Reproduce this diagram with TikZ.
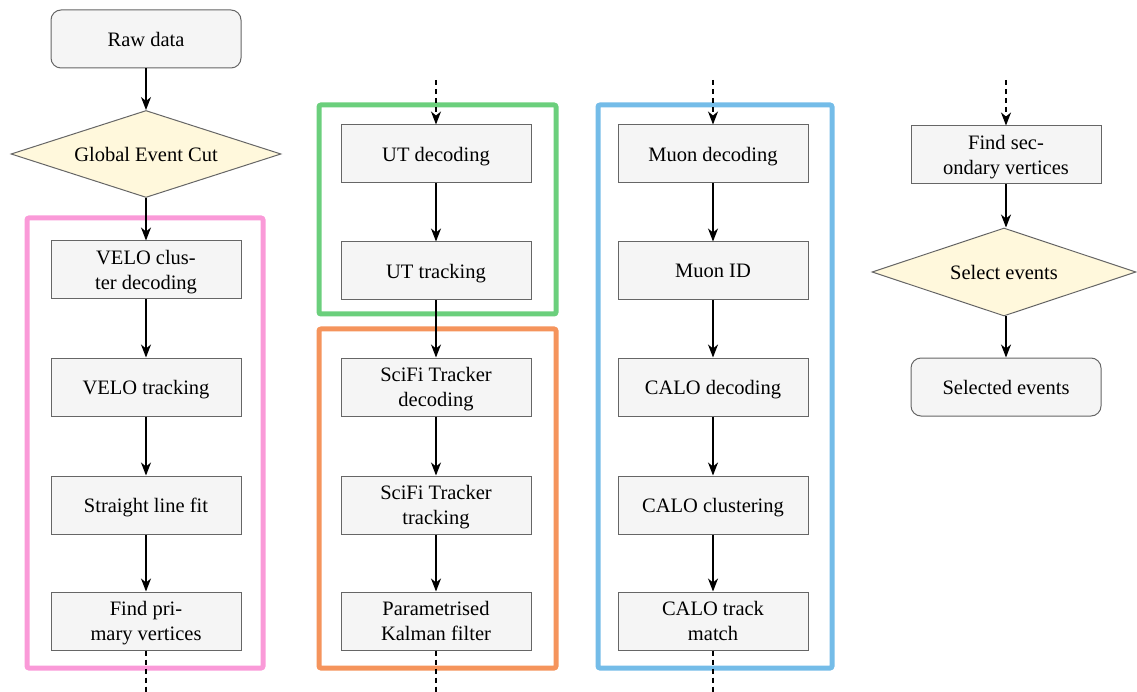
\documentclass[tikz,border=0pt]{standalone}
\usepackage{fontspec}
\setmainfont{Liberation Serif}
\usetikzlibrary{shapes.geometric,arrows.meta}
\definecolor{boxfill}{HTML}{F5F5F5}
\definecolor{boxline}{HTML}{666666}
\definecolor{dfill}{HTML}{FFF8DC}
\definecolor{cpink}{HTML}{FA9AD8}
\definecolor{cgreen}{HTML}{6BCF7C}
\definecolor{corange}{HTML}{F5945C}
\definecolor{cblue}{HTML}{74BCE8}
\tikzset{
  proc/.style={draw=boxline, fill=boxfill, line width=1pt, minimum width=190pt, minimum height=58pt, align=center, inner sep=2pt, text depth=0pt, font=\fontsize{20.5}{24.5}\selectfont},
  term/.style={proc, rounded corners=10pt},
  decis/.style={diamond, draw=boxline, fill=dfill, line width=1pt, aspect=3, inner sep=1pt, text depth=0pt, minimum width=270pt, minimum height=87pt, font=\fontsize{20.5}{24.5}\selectfont},
  grp/.style={line width=5pt, rounded corners=2pt},
  arr/.style={-{Stealth[length=13pt,width=10pt,inset=4pt]}, line width=1.3pt},
  darr/.style={arr, dash pattern=on 5pt off 4pt},
  dline/.style={line width=1.3pt, dash pattern=on 5pt off 4pt},
}
\begin{document}
\begin{tikzpicture}[x=1pt,y=-1pt]
\useasboundingbox (0,0) rectangle (1137,692);
% group frames
\draw[grp, cpink]   (27,218) rectangle (263,668);
\draw[grp, cgreen]  (319,105) rectangle (556,314);
\draw[grp, corange] (319,329) rectangle (556,668);
\draw[grp, cblue]   (598,105) rectangle (832,668);
% column 1
\node[term]  (raw)  at (146,39)  {Raw data};
\node[decis] (gec)  at (146,154) {Global Event Cut};
\node[proc]  (velc) at (146,270) {VELO clus-\\ter decoding};
\node[proc]  (velt) at (146,387) {VELO tracking};
\node[proc]  (slf)  at (146,505) {Straight line fit};
\node[proc]  (fpv)  at (146,621) {Find pri-\\mary vertices};
\coordinate (e1) at (146,692);
% column 2
\coordinate (s2) at (436,80);
\node[proc] (utd) at (436,154) {UT decoding};
\node[proc] (utt) at (436,271) {UT tracking};
\node[proc] (sfd) at (436,387) {SciFi Tracker\\decoding};
\node[proc] (sft) at (436,505) {SciFi Tracker\\tracking};
\node[proc] (pkf) at (436,621) {Parametrised\\Kalman filter};
\coordinate (e2) at (436,692);
% column 3
\coordinate (s3) at (713,80);
\node[proc] (mud) at (713,154) {Muon decoding};
\node[proc] (mid) at (713,271) {Muon ID};
\node[proc] (cad) at (713,387) {CALO decoding};
\node[proc] (cac) at (713,505) {CALO clustering};
\node[proc] (ctm) at (713,621) {CALO track\\match};
\coordinate (e3) at (713,692);
% column 4
\coordinate (s4) at (1006,80);
\node[proc]  (fsv) at (1006,155) {Find sec-\\ondary vertices};
\node[decis, minimum width=264pt, minimum height=88pt] (sel) at (1004,272) {Select events};
\node[term]  (sev) at (1006,387) {Selected events};
% connectors
\draw[arr] (raw) -- (gec);
\draw[arr] (gec) -- (velc);
\draw[arr] (velc) -- (velt);
\draw[arr] (velt) -- (slf);
\draw[arr] (slf) -- (fpv);
\draw[dline] (fpv) -- (e1);
\draw[darr] (s2) -- (utd);
\draw[arr] (utd) -- (utt);
\draw[arr] (utt) -- (sfd);
\draw[arr] (sfd) -- (sft);
\draw[arr] (sft) -- (pkf);
\draw[dline] (pkf) -- (e2);
\draw[darr] (s3) -- (mud);
\draw[arr] (mud) -- (mid);
\draw[arr] (mid) -- (cad);
\draw[arr] (cad) -- (cac);
\draw[arr] (cac) -- (ctm);
\draw[dline] (ctm) -- (e3);
\draw[darr] (s4) -- (fsv);
\draw[arr] (fsv) -- (fsv |- sel.north);
\draw[arr] (fsv |- sel.south) -- (sev);
\end{tikzpicture}
\end{document}
